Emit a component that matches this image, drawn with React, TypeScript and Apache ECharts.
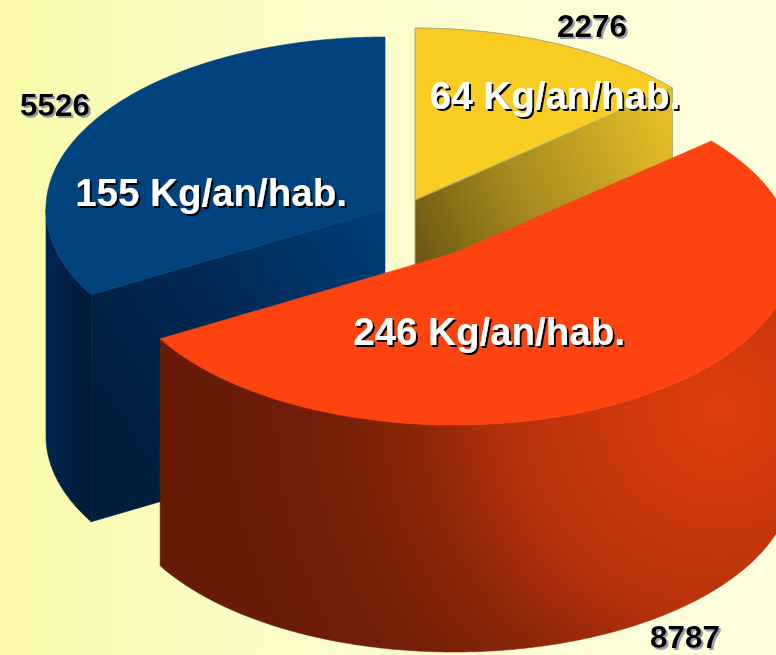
import React, { useEffect, useRef } from "react";
import * as echarts from "echarts";

// Data
const categories = ["64 Kg/an/hab.", "246 Kg/an/hab.", "155 Kg/an/hab."];
const tonnages = [2276, 8787, 5526];
const tonnageLabels = ["2276", "8787", "5526"];

// Drawing constants
const RX = 339;
const RY = 172;
const DEPTH = 227;
const WHITE_FONT = 'bold 38.5px "Liberation Sans", Arial, sans-serif';
const BLACK_FONT = 'bold 31.5px "Liberation Sans", Arial, sans-serif';
const centers = [[415, 200], [454, 253], [385, 209]];
const topColors = ["#F9CC22", "#FD4310", "#01437F"];
const strokes = ["#a9a67a", "none", "none"];
const layerOrder = [1, 2, 0];
const namePos = [[555, 95], [489, 331], [211, 192]];
const valuePos = [[592, 26], [685, 637], [55, 105]];

const grad = (x: number, y: number, x2: number, y2: number, stops: [number, string][]) =>
  new echarts.graphic.LinearGradient(x, y, x2, y2, stops.map(([offset, color]) => ({ offset, color })), true);

const wallFills: any[] = [
  "#000",
  new echarts.graphic.RadialGradient(720, 410, 600, [
    { offset: 0, color: "#E03E0E" },
    { offset: 0.34, color: "#B8320A" },
    { offset: 0.5, color: "#8C2607" },
    { offset: 0.62, color: "#772108" },
    { offset: 0.8, color: "#6A1C05" },
    { offset: 1, color: "#651B05" },
  ], true),
  grad(45, 0, 90, 0, [[0, "#00264F"], [1, "#001A36"]]),
];
const faceFills: any[] = [
  grad(415, 240, 672, 110, [[0, "#6F5A12"], [0.35, "#A0851C"], [0.75, "#CDAA22"], [1, "#E8C126"]]),
  "#000",
  grad(95, 420, 385, 235, [[0, "#001C3B"], [0.5, "#002A55"], [1, "#003D78"]]),
];

const total = tonnages.reduce((a, b) => a + b, 0);

function renderSlice(params: any, api: any) {
  const i = params.dataIndex;
  const before = tonnages.slice(0, i).reduce((a, b) => a + b, 0);
  const a0 = (before / total) * Math.PI * 2;
  const a1 = ((before + api.value(0)) / total) * Math.PI * 2;
  const [cx, cy] = centers[i];
  const pt = (a: number, dz = 0): number[] => [cx + RX * Math.sin(a), cy - RY * Math.cos(a) + dz];
  const arc = (from: number, to: number, dz = 0) => {
    const n = Math.max(2, Math.ceil(Math.abs(to - from) / 0.01));
    const out: number[][] = [];
    for (let k = 0; k <= n; k++) out.push(pt(from + ((to - from) * k) / n, dz));
    return out;
  };
  const children: any[] = [];
  const z = layerOrder[i] * 10;
  const poly = (points: number[][], fill: any, stroke: string, z2: number) =>
    children.push({
      type: "polygon",
      z2,
      shape: { points },
      style: { fill, stroke: stroke === "none" ? fill : stroke, lineWidth: stroke === "none" ? 0.6 : 1 },
    });
  // radial cut faces that look towards the viewer
  [[a0, -1], [a1, 1]].forEach(([a, sign]) => {
    if (sign * Math.sin(a) > 1e-6) {
      poly([[cx, cy], pt(a), pt(a, DEPTH), [cx, cy + DEPTH]], faceFills[i], strokes[i], z);
    }
  });
  // outer wall, front half only
  const w0 = Math.max(a0, Math.PI / 2);
  const w1 = Math.min(a1, (Math.PI * 3) / 2);
  if (w1 > w0) poly([...arc(w0, w1), ...arc(w1, w0, DEPTH)], wallFills[i], strokes[i], z + 1);
  // top surface
  poly([[cx, cy], ...arc(a0, a1)], topColors[i], strokes[i], z + 2);
  children.push({
    type: "text",
    z2: 100,
    style: {
      text: categories[i],
      x: namePos[i][0],
      y: namePos[i][1],
      font: WHITE_FONT,
      fill: "#FFFFFF",
      textAlign: "center",
      textVerticalAlign: "middle",
      textShadowColor: "#000000",
      textShadowBlur: 1,
      textShadowOffsetX: 2,
      textShadowOffsetY: 2,
    },
  });
  children.push({
    type: "text",
    z2: 100,
    style: {
      text: tonnageLabels[i],
      x: valuePos[i][0],
      y: valuePos[i][1],
      font: BLACK_FONT,
      fill: "#000000",
      textAlign: "center",
      textVerticalAlign: "middle",
      textShadowColor: "#9A9AB0",
      textShadowBlur: 1,
      textShadowOffsetX: 2,
      textShadowOffsetY: 2,
    },
  });
  return { type: "group", children };
}

export default function App() {
  const ref = useRef<HTMLDivElement>(null);
  useEffect(() => {
    document.body.style.margin = "0";
    const chart = echarts.init(ref.current!, undefined, { renderer: "svg" });
    chart.setOption({
      animation: false,
      backgroundColor: new echarts.graphic.LinearGradient(0, 0, 1, 0, [
        { offset: 0, color: "#FAFAA8" },
        { offset: 0.3, color: "#FBFCC4" },
        { offset: 1, color: "#FEFFDE" },
      ]),
      series: [
        {
          type: "custom",
          coordinateSystem: "none",
          renderItem: renderSlice,
          data: tonnages.map((v) => [v]),
          silent: true,
        },
      ],
    });
    return () => chart.dispose();
  }, []);
  return <div ref={ref} style={{ width: 776, height: 655, overflow: "hidden" }} />;
}
